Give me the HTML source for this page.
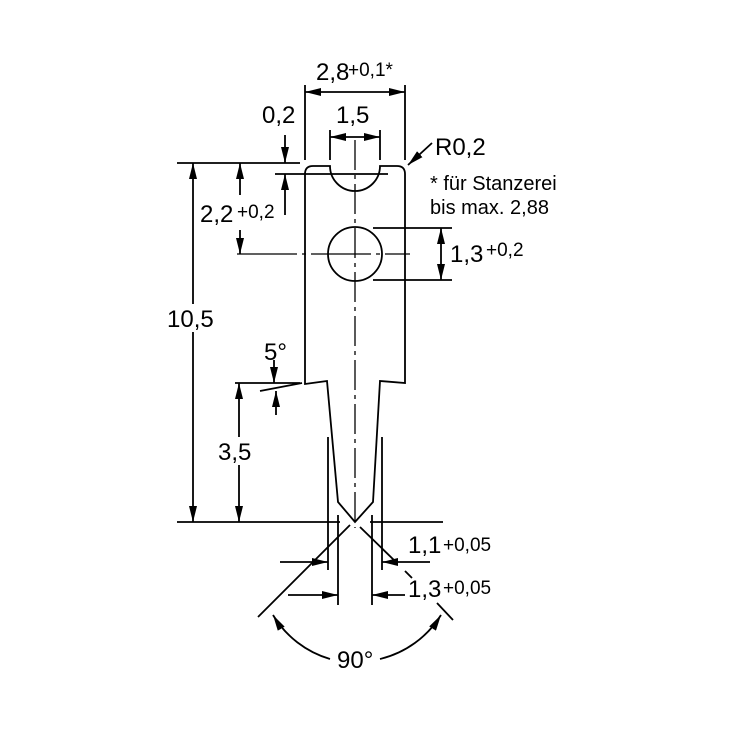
<!DOCTYPE html>
<html><head><meta charset="utf-8"><style>html,body{margin:0;padding:0;background:#fff}svg{display:block}</style></head><body>
<svg width="732" height="732" viewBox="0 0 732 732" xmlns="http://www.w3.org/2000/svg" font-family="Liberation Sans, sans-serif" fill="#000">
<defs>
<marker id="a" viewBox="0 0 16 8" refX="16" refY="4" markerWidth="16" markerHeight="8" markerUnits="userSpaceOnUse" orient="auto"><path d="M0,0 L16,4 L0,8 z"/></marker>
</defs>
<g stroke="#000" stroke-width="1.8" fill="none">
<path d="M305,384 L305,174 Q305,166 313,166 L330,166 A25,25 0 0 0 380,166 L397,166 Q405,166 405,174 L405,383 L380,381 L373,502 L355,522 L338,502 L327,381 Z"/>
<circle cx="355" cy="254" r="27"/>
<path d="M355,140 V528" stroke-dasharray="30,5,4,5" stroke-width="1.3"/>
<path d="M237,254 H410" stroke-dasharray="60,5,4,5" stroke-width="1.3"/>
<path d="M305,85 V160 M405,85 V160"/>
<path d="M355,92 H305" marker-end="url(#a)"/><path d="M355,92 H405" marker-end="url(#a)"/>
<path d="M330,130 V160 M380,130 V160"/>
<path d="M355,137 H330" marker-end="url(#a)"/><path d="M355,137 H380" marker-end="url(#a)"/>
<path d="M177,163 H300 M275,174 H388"/>
<path d="M285,135 V163" marker-end="url(#a)"/><path d="M285,215 V174" marker-end="url(#a)"/>
<path d="M193,340 V163" marker-end="url(#a)"/><path d="M193,340 V522" marker-end="url(#a)"/>
<path d="M240,195 V163" marker-end="url(#a)"/><path d="M240,230 V254" marker-end="url(#a)"/>
<path d="M373,228 H452 M373,280 H452"/>
<path d="M441,254 V228" marker-end="url(#a)"/><path d="M441,254 V280" marker-end="url(#a)"/>
<path d="M432,143 L408,165" marker-end="url(#a)"/>
<path d="M235,383 H300 M260,391 L302,383"/>
<path d="M274,360 V383" marker-end="url(#a)"/><path d="M276,415 V391" marker-end="url(#a)"/>
<path d="M239,450 V383" marker-end="url(#a)"/><path d="M239,450 V522" marker-end="url(#a)"/>
<path d="M177,522 H340 M370,522 H443"/>
<path d="M328,437 V570 M382,437 V570"/>
<path d="M280,562 H328" marker-end="url(#a)"/><path d="M430,562 H382" marker-end="url(#a)"/>
<path d="M338,515 V605 M372,515 V605"/>
<path d="M288,595 H338" marker-end="url(#a)"/><path d="M405,595 H372" marker-end="url(#a)"/>
<path d="M350,525 L258,617"/>
<path d="M360,527 L397,563 M405,571 L412,578 M437,603 L453,620"/>
<path d="M330,659 A99,99 0 0 1 273,615" marker-end="url(#a)"/>
<path d="M380,659 A99,99 0 0 0 441,615" marker-end="url(#a)"/>
</g>
<rect x="166" y="304" width="52" height="28" fill="#fff"/>
<rect x="216" y="437" width="38" height="28" fill="#fff"/>
<g font-size="24">
<text x="316" y="80">2,8</text><text x="348" y="76" font-size="19">+0,1*</text>
<text x="336" y="123">1,5</text>
<text x="262" y="123">0,2</text>
<text x="200" y="222">2,2</text><text x="237" y="218" font-size="19">+0,2</text>
<text x="167" y="327">10,5</text>
<text x="450" y="262">1,3</text><text x="486" y="256" font-size="19">+0,2</text>
<text x="435" y="155">R0,2</text>
<text x="264" y="360">5°</text>
<text x="218" y="460">3,5</text>
<text x="408" y="553">1,1</text><text x="443" y="551" font-size="19">+0,05</text>
<text x="408" y="597">1,3</text><text x="443" y="594" font-size="19">+0,05</text>
<text x="337" y="668">90°</text>
</g>
<g font-size="20">
<text x="430" y="190">* für Stanzerei</text>
<text x="430" y="214">bis max. 2,88</text>
</g>
</svg>
</body></html>
